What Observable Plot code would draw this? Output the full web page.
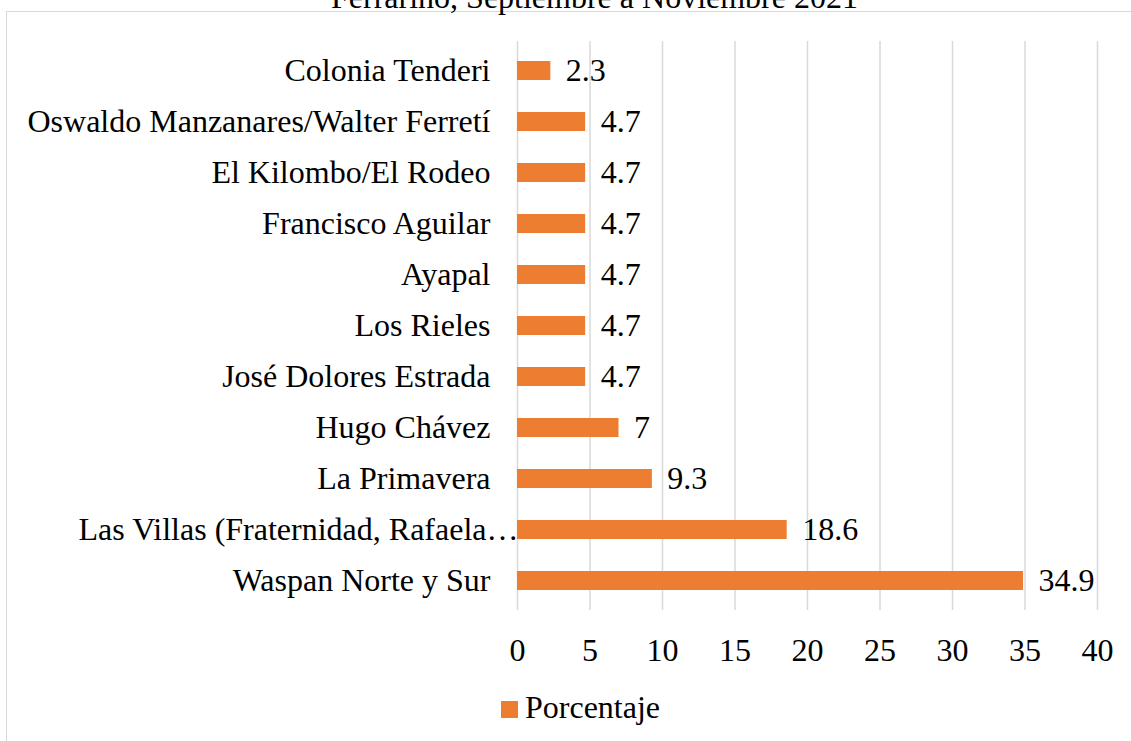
<!DOCTYPE html>
<html>
<head>
<meta charset="utf-8">
<script src="https://cdn.jsdelivr.net/npm/d3@7"></script>
<script src="https://cdn.jsdelivr.net/npm/@observablehq/plot@0.6"></script>
<style>
  html, body { margin: 0; padding: 0; background: #fff; }
  #wrap { position: relative; width: 1131px; height: 741px; overflow: hidden; font-family: "Liberation Serif", "Times New Roman", serif; }
  #frame { position: absolute; left: 6px; top: 11px; width: 1140px; height: 760px; border: 1.5px solid #d9d9d9; box-sizing: border-box; }
  #title { position: absolute; left: 29px; top: -19px; width: 1131px; text-align: center; font-size: 32px; line-height: 32px; color: #000; white-space: nowrap; }
  #chart { position: absolute; left: 0; top: 0; }
  #chart svg, #chart svg text { font-family: "Liberation Serif", "Times New Roman", serif !important; }
  #legend { position: absolute; left: 501px; top: 690px; font-size: 32px; line-height: 34px; color: #000; display: flex; align-items: center; white-space: nowrap; }
  #legend .sw { width: 17px; height: 17px; background: #ED7D31; margin-right: 7px; margin-top: 4px; }
</style>
</head>
<body>
<div id="wrap">
  <div id="frame"></div>
  <div id="title">Ferrarino, Septiembre a Noviembre 2021</div>
  <div id="chart"></div>
  <div id="legend"><span class="sw"></span><span>Porcentaje</span></div>
</div>
<script>
const categories = [
  "Colonia Tenderi",
  "Oswaldo Manzanares/Walter Ferretí",
  "El Kilombo/El Rodeo",
  "Francisco Aguilar",
  "Ayapal",
  "Los Rieles",
  "José Dolores Estrada",
  "Hugo Chávez",
  "La Primavera",
  "Las Villas (Fraternidad, Rafaela…",
  "Waspan Norte y Sur"
];
const porcentaje = [2.3, 4.7, 4.7, 4.7, 4.7, 4.7, 4.7, 7, 9.3, 18.6, 34.9];
const xTicks = [0, 5, 10, 15, 20, 25, 30, 35, 40];
const seriesName = "Porcentaje";
const barColor = "#ED7D31";
// The one label that Excel truncated and let overflow toward the axis
const overflowLabel = "Las Villas (Fraternidad, Rafaela…";

const data = categories.map((c, i) => ({cat: c, value: porcentaje[i]}));

const chart = Plot.plot({
  width: 1131,
  height: 741,
  marginLeft: 517,
  marginRight: 34,
  marginTop: 41,
  marginBottom: 131,
  style: "font-family: 'Liberation Serif', 'Times New Roman', serif; font-size: 32px; color: #000; background: transparent;",
  x: {domain: [0, 40], ticks: xTicks},
  y: {domain: categories, paddingInner: 0.63, paddingOuter: 0.315},
  marks: [
    Plot.gridX(xTicks, {stroke: "#d9d9d9", strokeOpacity: 1, strokeWidth: 1.5}),
    Plot.barX(data, {x: "value", y: "cat", fill: barColor}),
    Plot.text(data, {x: "value", y: "cat", text: d => String(d.value), textAnchor: "start", dx: 15, fontSize: 32, fill: "#000"}),
    Plot.axisX({ticks: xTicks, tickSize: 0, tickPadding: 28, label: null, fontSize: 32}),
    Plot.axisY({tickSize: 0, tickPadding: 27, label: null, fontSize: 32, tickFormat: d => d === overflowLabel ? "" : d}),
    Plot.text([overflowLabel], {x: 0, y: d => d, text: d => d, textAnchor: "end", dx: 1, fontSize: 32, fill: "#000"})
  ]
});
document.getElementById("chart").appendChild(chart);
</script>
</body>
</html>
